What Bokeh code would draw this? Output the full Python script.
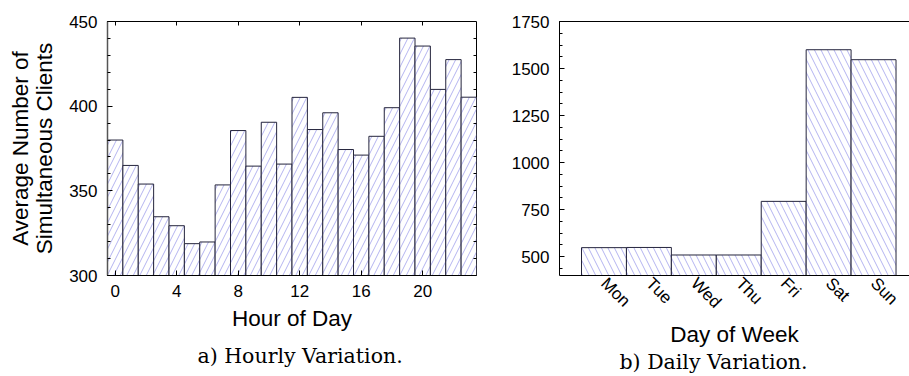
import numpy as np
from math import pi
from bokeh.plotting import figure
from bokeh.layouts import row
from bokeh.models import Range1d, FixedTicker, LinearAxis, Title
from bokeh.embed import file_html
from bokeh.resources import INLINE

# Hourly averages of simultaneous clients
hours = list(range(24))
clients = [380, 365, 354, 334.7, 329.4, 318.8, 319.8, 353.5, 385.6, 364.6,
           390.5, 365.8, 405.2, 386.2, 396.1, 374.4, 371.1, 382.2, 399.1,
           440.2, 435.5, 409.9, 427.5, 405.3]
hour_ticks = [0, 4, 8, 12, 16, 20]
hour_y_ticks = [300, 350, 400, 450]

# Daily averages
days = ["Mon", "Tue", "Wed", "Thu", "Fri", "Sat", "Sun"]
daily = [548, 549, 509, 509, 794, 1600, 1547]
day_y_ticks = [500, 750, 1000, 1250, 1500, 1750]

SANS = "Liberation Sans"
SERIF = "DejaVu Serif"
EDGE = "#25253d"
HATCH = "#b4b4f0"


def style_axis(ax):
    ax.major_label_text_font = SANS
    ax.major_label_text_font_size = "17px"
    ax.major_label_text_color = "black"
    ax.axis_label_text_font = SANS
    ax.axis_label_text_font_size = "22.5px"
    ax.axis_label_text_font_style = "normal"
    ax.axis_label_text_color = "black"
    ax.axis_label_text_line_height = 0.95
    ax.major_tick_out = 0
    ax.minor_tick_out = 0
    ax.major_tick_in = 5
    ax.minor_tick_in = 3
    ax.major_tick_line_color = "black"
    ax.minor_tick_line_color = "black"
    ax.axis_line_color = "black"


def mirror_axis(positions, length):
    # tick marks only: placed as minor ticks so that no labels are drawn
    ax = LinearAxis(ticker=FixedTicker(ticks=[], minor_ticks=positions))
    ax.major_tick_in = 0
    ax.major_tick_out = 0
    ax.minor_tick_in = length
    ax.minor_tick_out = 0
    ax.minor_tick_line_color = "black"
    ax.major_label_standoff = 0
    ax.axis_line_color = None
    return ax


def caption(text, offset, standoff):
    return Title(text=text, align="left", offset=offset, text_font=SERIF,
                 text_font_size="20.5px", text_font_style="normal",
                 text_color="black", standoff=standoff)


# ---- a) hourly variation ----
p1 = figure(width=480, height=376, x_range=Range1d(-0.5, 23.5),
            y_range=Range1d(300, 450), output_backend="svg",
            toolbar_location=None, min_border_left=107, min_border_right=4,
            min_border_top=21, min_border_bottom=100)
p1.grid.visible = False
p1.outline_line_color = "black"
p1.vbar(x=hours, top=clients, bottom=300, width=1, fill_color="white",
        line_color=EDGE, line_width=1, hatch_pattern="/", hatch_color=HATCH,
        hatch_scale=13, hatch_weight=1)

xa = p1.xaxis[0]
xa.ticker = FixedTicker(ticks=hour_ticks)
xa.axis_label = "Hour of Day"
style_axis(xa)
xa.major_label_standoff = 9
xa.axis_label_standoff = 6
ya = p1.yaxis[0]
ya.ticker = FixedTicker(ticks=hour_y_ticks,
                        minor_ticks=list(np.arange(300, 451, 10)))
ya.axis_label = "Average Number of\nSimultaneous Clients"
style_axis(ya)
ya.major_label_standoff = 10
ya.axis_label_standoff = 9
ya.axis_line_color = "#555555"
ya.axis_line_width = 1.5
p1.add_layout(mirror_axis(hour_ticks, 4), "above")
p1.add_layout(mirror_axis(list(np.arange(310, 450, 10)), 3), "right")
p1.add_layout(caption("a) Hourly Variation.", 90, 17), "below")

# ---- b) daily variation ----
p2 = figure(width=429, height=376, x_range=Range1d(-0.99, 6.8),
            y_range=Range1d(400, 1750), output_backend="svg",
            toolbar_location=None, min_border_left=79, min_border_right=0,
            min_border_top=21, min_border_bottom=100)
p2.grid.visible = False
p2.outline_line_color = None
p2.vbar(x=list(range(len(days))), top=daily, bottom=400, width=1,
        fill_color="white", line_color=EDGE, line_width=1,
        hatch_pattern="\\", hatch_color=HATCH, hatch_scale=13, hatch_weight=1)

xb = p2.xaxis[0]
xb.ticker = FixedTicker(ticks=list(range(len(days))))
xb.major_label_overrides = {i: d for i, d in enumerate(days)}
xb.major_label_orientation = -pi / 4
xb.axis_label = "Day of Week"
style_axis(xb)
xb.major_tick_in = 0
xb.major_label_standoff = 5
xb.axis_label_standoff = 1
yb = p2.yaxis[0]
yb.ticker = FixedTicker(ticks=day_y_ticks,
                        minor_ticks=list(np.arange(437.5, 1751, 62.5)))
style_axis(yb)
yb.major_label_standoff = 10
top2 = mirror_axis([], 0)
top2.axis_line_color = "black"
p2.add_layout(top2, "above")
p2.add_layout(caption("b) Daily Variation.", 60, -5), "below")

layout = row(p1, p2)
open("out.html", "w").write(file_html(layout, INLINE))
